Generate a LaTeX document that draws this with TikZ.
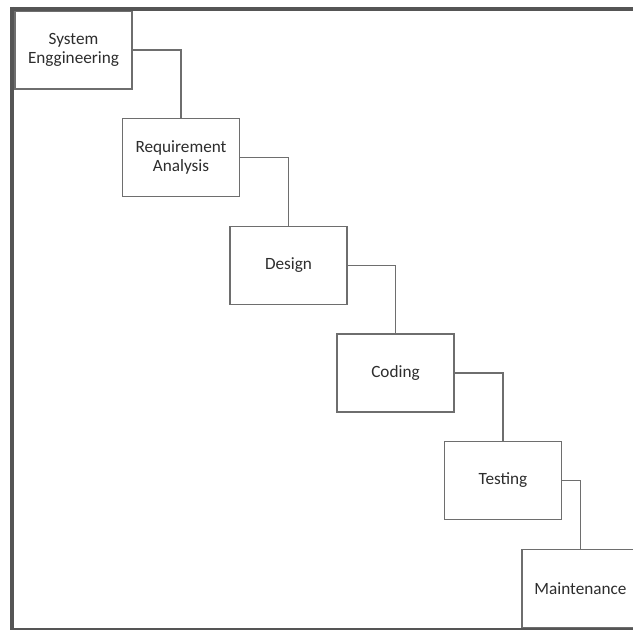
\documentclass[tikz,border=0pt]{standalone}
\usepackage{fontspec}
\setmainfont{Carlito}
\definecolor{wfline}{RGB}{110,110,110}
\definecolor{wftext}{RGB}{45,45,45}
\definecolor{wfframe}{RGB}{85,85,85}
\usetikzlibrary{positioning}

\begin{document}
\begin{tikzpicture}[x=0.5pt, y=-0.5pt,
  font=\fontsize{8.6}{9.7}\selectfont, text=wftext,
  b/.style={rectangle, draw=wfline, line width=0.6pt, align=center,
            minimum width=58.5pt, minimum height=39pt, inner sep=0pt, fill=white},
  ln/.style={draw=wfline, line width=0.6pt}]
\useasboundingbox (0,0) rectangle (633,630);
\fill[white] (-10,-10) rectangle (645,640);
% steps
\node[b] (sys) at (73.5,50){System\\Enggineering};
\node[b] (req) at (181,157.5){Requirement\\Analysis};
\node[b] (des) at (288.5,265.5){Design};
\node[b] (cod) at (395.5,373){Coding};
\node[b] (tst) at (503,480.5){Testing};
\node[b] (mnt) at (580.5,588.5){Maintenance};
\draw[ln](sys.east)-|(req.north);\draw[ln](req.east)-|(des.north);
\draw[ln](des.east)-|(cod.north);\draw[ln](cod.east)-|(tst.north);
\draw[ln](tst.east)-|(mnt.north);
% frame
\draw[wfframe, line width=2pt] (10,9)--(645,9);
\draw[wfframe, line width=2pt] (12,7)--(12,640);
\draw[wfframe, line width=1pt] (10,629)--(645,629);
\end{tikzpicture}
\end{document}
